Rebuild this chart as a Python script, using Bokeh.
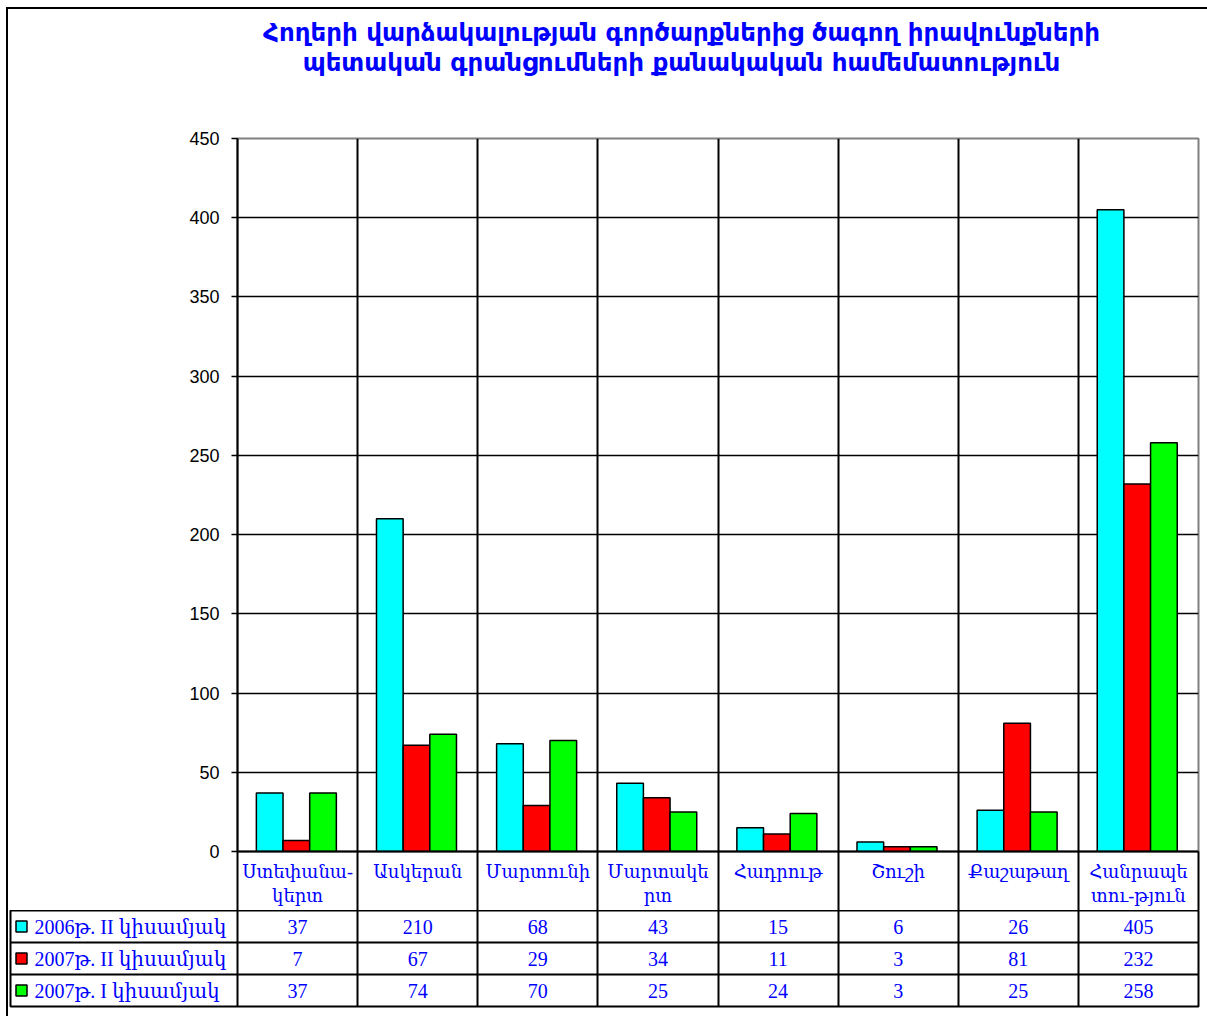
from bokeh.plotting import figure
from bokeh.models import Range1d, FixedTicker
from bokeh.layouts import column
from bokeh.embed import file_html
from bokeh.resources import INLINE
from bokeh.core.properties import value

# ---------------- data ----------------
title_lines = [
    "Հողերի վարձակալության գործարքներից ծագող իրավունքների",
    "պետական գրանցումների քանակական համեմատություն",
]
categories = ["Ստեփանա-\nկերտ", "Ասկերան", "Մարտունի", "Մարտակե\nրտ",
              "Հադրութ", "Շուշի", "Քաշաթաղ", "Հանրապե\nտու-թյուն"]
series_names = ["2006թ. II կիսամյակ", "2007թ. II կիսամյակ", "2007թ. I կիսամյակ"]
s2006_II = [37, 210, 68, 43, 15, 6, 26, 405]
s2007_II = [7, 67, 29, 34, 11, 3, 81, 232]
s2007_I = [37, 74, 70, 25, 24, 3, 25, 258]
y_ticks = [0, 50, 100, 150, 200, 250, 300, 350, 400, 450]

series = [s2006_II, s2007_II, s2007_I]
colors = ["#00FFFF", "#FF0000", "#00FF00"]
n = len(categories)

BLUE = "#0000FF"
SERIF = "Liberation Serif, DejaVu Serif"
W = 1199
FRAME_LEFT = 229
FRAME_RIGHT = 9
FRAME_W = W - FRAME_LEFT - FRAME_RIGHT
PX_PER_CAT = FRAME_W / n
TOP = y_ticks[-1]
TITLE_H = 100

# ---------------- title strip ----------------
tt = figure(width=W, height=TITLE_H, x_range=Range1d(0, W), y_range=Range1d(0, TITLE_H),
            output_backend="svg", toolbar_location=None, frame_align=False,
            min_border_left=0, min_border_right=0, min_border_top=0, min_border_bottom=0)
tt.xaxis.visible = False
tt.yaxis.visible = False
tt.xgrid.visible = False
tt.ygrid.visible = False
tt.outline_line_color = None
tt.border_fill_color = "white"
tt.text(x=[673, 673], y=[TITLE_H - 23, TITLE_H - 53], text=title_lines,
        text_align="center", text_baseline="middle", text_font=value("DejaVu Sans"),
        text_font_style="bold", text_font_size="24.5px", text_color=BLUE)

# ---------------- chart ----------------
p = figure(width=W, height=901 - TITLE_H, x_range=Range1d(0, n), y_range=Range1d(0, TOP),
           output_backend="svg", toolbar_location=None, frame_align=False,
           min_border_left=FRAME_LEFT, min_border_right=FRAME_RIGHT,
           min_border_top=129 - TITLE_H, min_border_bottom=59)
p.background_fill_color = "white"
p.border_fill_color = "white"
p.outline_line_color = "#808080"
p.outline_line_width = 2

p.xgrid.ticker = FixedTicker(ticks=list(range(1, n)))
p.xgrid.grid_line_color = "black"
p.xgrid.grid_line_width = 2
p.ygrid.ticker = FixedTicker(ticks=y_ticks[1:-1])
p.ygrid.grid_line_color = "black"
p.ygrid.grid_line_width = 1.5

bw = 0.222
center = 0.49
for k, (vals, col) in enumerate(zip(series, colors)):
    xs = [i + center + (k - 1) * bw for i in range(n)]
    p.vbar(x=xs, top=vals, width=bw, bottom=0, fill_color=col,
           line_color="black", line_width=1.5)

yax = p.yaxis[0]
yax.ticker = FixedTicker(ticks=y_ticks)
yax.axis_line_color = "black"
yax.axis_line_width = 2
yax.major_tick_out = 6
yax.major_tick_in = 0
yax.major_tick_line_color = "black"
yax.major_tick_line_width = 1.5
yax.minor_tick_line_color = None
yax.major_label_text_font = "Liberation Sans"
yax.major_label_text_font_size = "18px"
yax.major_label_text_color = "black"
yax.major_label_standoff = 12

xax = p.xaxis[0]
xax.ticker = FixedTicker(ticks=[i + 0.5 for i in range(n)],
                         minor_ticks=list(range(n + 1)))
xax.major_label_overrides = {i + 0.5: c for i, c in enumerate(categories)}
xax.axis_line_color = "black"
xax.axis_line_width = 2
xax.major_tick_line_color = None
xax.major_tick_out = 0
xax.major_tick_in = 0
xax.minor_tick_out = 59
xax.minor_tick_in = 0
xax.minor_tick_line_color = "black"
xax.minor_tick_line_width = 2
xax.major_label_text_font = SERIF
xax.major_label_text_font_size = "18px"
xax.major_label_text_color = BLUE
xax.major_label_standoff = -49

# ---------------- data table ----------------
T_LEFT = 2
LEFT = -(FRAME_LEFT - T_LEFT) / PX_PER_CAT
t = figure(width=W, height=106, x_range=Range1d(LEFT, n), y_range=Range1d(0, 3),
           output_backend="svg", toolbar_location=None, frame_align=False,
           min_border_left=T_LEFT, min_border_right=FRAME_RIGHT,
           min_border_top=0, min_border_bottom=10)
t.xaxis.visible = False
t.yaxis.visible = False
t.border_fill_color = "white"
t.outline_line_color = "black"
t.outline_line_width = 2
t.xgrid.ticker = FixedTicker(ticks=list(range(0, n + 1)))
t.xgrid.grid_line_color = "black"
t.xgrid.grid_line_width = 2
t.ygrid.ticker = FixedTicker(ticks=[1, 2])
t.ygrid.grid_line_color = "black"
t.ygrid.grid_line_width = 2

rows_y = [len(series) - 0.5 - k for k in range(len(series))]
for k, vals in enumerate(series):
    t.text(x=[i + 0.5 for i in range(n)], y=[rows_y[k]] * n, text=[str(v) for v in vals],
           text_align="center", text_baseline="middle", text_font=value(SERIF),
           text_font_size="20px", text_color=BLUE)

t.scatter(x=[LEFT + 11 / PX_PER_CAT] * len(series), y=rows_y, marker="square", size=11,
          fill_color=colors, line_color="black", line_width=1.5)
t.text(x=[LEFT + 24 / PX_PER_CAT] * len(series), y=rows_y, text=series_names,
       text_align="left", text_baseline="middle", text_font=value(SERIF),
       text_font_size="20px", text_color=BLUE)

layout = column(tt, p, t, spacing=0, margin=(7, 0, 0, 6),
                styles={"border-left": "2px solid black", "border-top": "2px solid black"})

open("out.html", "w").write(file_html(layout, INLINE))
